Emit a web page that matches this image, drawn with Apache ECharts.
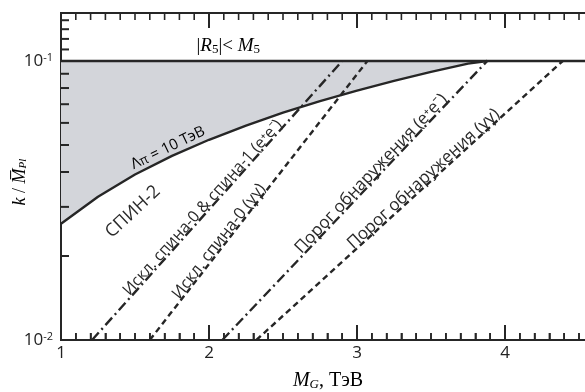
<!DOCTYPE html>
<html><head><meta charset="utf-8">
<script src="https://cdn.jsdelivr.net/npm/echarts@6/dist/echarts.min.js"></script>
<style>html,body{margin:0;padding:0;background:#fff}#c{width:585px;height:392px}</style>
</head><body><div id="c"></div>
<script>
// ---- data ----
const curveMass = [1.0, 1.25, 1.5, 1.75, 2.0, 2.25, 2.5, 2.75, 3.0, 3.25, 3.5, 3.75, 3.88];
const curveK    = [0.0261, 0.0326, 0.0392, 0.0457, 0.0522, 0.0587, 0.0653, 0.0718, 0.0783, 0.0849, 0.0914, 0.0979, 0.1];
const boundMass = [1.0, 5.0];
const boundK    = [0.1, 0.1];
const exclEeMass = [1.21, 2.90];
const exclEeK    = [0.01, 0.1];
const exclGgMass = [1.60, 3.07];
const exclGgK    = [0.01, 0.1];
const detEeMass  = [2.09, 3.88];
const detEeK     = [0.01, 0.1];
const detGgMass  = [2.32, 4.39];
const detGgK     = [0.01, 0.1];
const xTickValues = [1, 2, 3, 4, 5];
const xTickLabels = ['1', '2', '3', '4', '5'];
const yTickValues = [0.01, 0.1];
const yTickExponents = ['-2', '-1'];
const yMinorTicks = [0.02, 0.03, 0.04, 0.05, 0.06, 0.07, 0.08, 0.09, 0.11, 0.12, 0.13, 0.14];
const labelTexts = {
  spin2: 'СПИН-2',
  exclEe: 'Искл. спина-0 & спина-1 (e⁺e⁻)',
  exclGg: 'Искл. спина-0 (γγ)',
  detEe: 'Порог обнаружения (e⁺e⁻)',
  detGg: 'Порог обнаружения (γγ)'
};

// ---- chart ----
const ink = '#262626';
const X_MIN = 1, X_MAX = 5;
const Y_MIN = 0.01, Y_MAX = 0.1486;
const pairs = (xs, ys) => xs.map((x, i) => [x, ys[i]]);
const xMinorTicks = [];
for (let i = X_MIN * 10; i <= X_MAX * 10; i++) { if (i % 10 !== 0) xMinorTicks.push(i / 10); }
const xAllTicks = xTickValues.map(v => ({ v: v, len: 15, w: 2 }))
  .concat(xMinorTicks.map(v => ({ v: v, len: 7, w: 1.6 })));
const chart = echarts.init(document.getElementById('c'));

function lineSeries(xs, ys, dash, width) {
  return {
    type: 'line', data: pairs(xs, ys), symbol: 'none', z: 3,
    lineStyle: { color: ink, width: width || 2.2, type: dash || 'solid' }
  };
}

// tick series drawn through the scales (one short segment per tick)
function xTickSeries(edgeK, dir) {
  return {
    type: 'custom', coordinateSystem: 'cartesian2d', z: 6, clip: false,
    data: xAllTicks.map(s => [s.v, edgeK]),
    renderItem: (params, api) => {
      const s = xAllTicks[params.dataIndex];
      const p = api.coord([s.v, edgeK]);
      return { type: 'line', shape: { x1: p[0], y1: p[1], x2: p[0], y2: p[1] + dir * s.len },
        style: { stroke: ink, lineWidth: s.w } };
    }
  };
}
const yTickSeries = {
  type: 'custom', coordinateSystem: 'cartesian2d', z: 6, clip: false,
  data: yMinorTicks.map(k => [X_MIN, k]),
  renderItem: (params, api) => {
    const p = api.coord([X_MIN, yMinorTicks[params.dataIndex]]);
    return { type: 'line', shape: { x1: p[0], y1: p[1], x2: p[0] + 8, y2: p[1] },
      style: { stroke: ink, lineWidth: 2 } };
  }
};

chart.setOption({
  animation: false,
  grid: { left: 61, top: 13, width: 592, height: 327, outerBoundsMode: 'none',
    show: true, borderColor: ink, borderWidth: 2, backgroundColor: 'transparent' },
  xAxis: [{
    type: 'value', min: X_MIN, max: X_MAX, interval: 1, position: 'bottom',
    axisLine: { show: true, onZero: false, lineStyle: { color: ink, width: 2 } },
    axisTick: { show: true, inside: true, length: 15, lineStyle: { color: ink, width: 2 } },
    minorTick: { show: true, splitNumber: 10, length: 7, lineStyle: { color: ink, width: 1.6 } },
    splitLine: { show: false }, minorSplitLine: { show: false },
    axisLabel: { show: true, color: '#222', fontSize: 17, fontFamily: 'Open Sans', margin: 5,
      formatter: v => { const i = xTickValues.indexOf(Math.round(v)); return i < 0 ? '' : xTickLabels[i]; } }
  }],
  yAxis: [{
    type: 'log', logBase: 10, min: Y_MIN, max: Y_MAX, position: 'left',
    axisLine: { show: true, onZero: false, lineStyle: { color: ink, width: 2 } },
    axisTick: { show: false },
    splitLine: { show: false },
    axisLabel: {
      show: true, margin: 8,
      formatter: v => {
        const i = yTickValues.findIndex(t => Math.abs(t - v) / t < 1e-6);
        return i < 0 ? '' : '{b|10}{s|' + yTickExponents[i] + '}';
      },
      rich: {
        b: { fontSize: 17, fontFamily: 'Open Sans', color: '#222', lineHeight: 18 },
        s: { fontSize: 11, fontFamily: 'Open Sans', color: '#222', verticalAlign: 'top', lineHeight: 18, padding: [0, 0, 9, 0] }
      }
    }
  }],
  series: [
    {
      type: 'custom', coordinateSystem: 'cartesian2d', z: 1,
      data: [[curveMass[0], boundK[0]]],
      renderItem: (params, api) => {
        const pts = curveMass.map((m, i) => api.coord([m, curveK[i]]));
        pts.push(api.coord([curveMass[curveMass.length - 1], boundK[0]]));
        pts.push(api.coord([curveMass[0], boundK[0]]));
        return { type: 'polygon', shape: { points: pts }, style: { fill: '#d3d5da', stroke: null } };
      }
    },
    lineSeries(curveMass, curveK, 'solid', 2.4),
    lineSeries(boundMass, boundK, 'solid', 2.4),
    lineSeries(exclEeMass, exclEeK, [10, 4, 2, 4], 2.4),
    lineSeries(exclGgMass, exclGgK, [6, 4], 2.4),
    lineSeries(detEeMass, detEeK, [10, 4, 2, 4], 2.4),
    lineSeries(detGgMass, detGgK, [6, 4], 2.4),
    xTickSeries(Y_MIN, -1),
    xTickSeries(Y_MAX, 1),
    yTickSeries
  ]
});

// ---- text labels placed through the chart's scales ----
const toPx = p => chart.convertToPixel({ xAxisIndex: 0, yAxisIndex: 0 }, p);
function alongLine(xs, ys, t, perp) {
  const a = toPx([xs[0], ys[0]]), b = toPx([xs[1], ys[1]]);
  const dx = b[0] - a[0], dy = b[1] - a[1], len = Math.hypot(dx, dy);
  const nx = dy / len, ny = -dx / len;
  return { x: a[0] + t * dx + nx * perp, y: a[1] + t * dy + ny * perp, rotation: Math.atan2(-dy, dx) };
}
function txt(pos, text, size) {
  return {
    type: 'text', x: pos.x, y: pos.y, rotation: pos.rotation || 0, z: 10,
    style: { text: text, fill: '#2a2a2a', fontSize: size, fontFamily: 'Open Sans',
      align: 'center', verticalAlign: 'middle', textAlign: 'center', textVerticalAlign: 'middle' }
  };
}
const pL = toPx([1.723, 0.0488]);
const pS = toPx([1.486, 0.0288]);
const pR = toPx([2.13, 0.113]);
const serif = 'Liberation Serif';
const graphics = [
  txt(alongLine(exclEeMass, exclEeK, 0.46, 6), labelTexts.exclEe, 16),
  txt(alongLine(exclGgMass, exclGgK, 0.34, 6), labelTexts.exclGg, 16.5),
  txt(alongLine(detEeMass, detEeK, 0.58, 6.5), labelTexts.detEe, 17),
  txt(alongLine(detGgMass, detGgK, 0.56, 6.5), labelTexts.detGg, 17),
  txt({ x: pS[0], y: pS[1], rotation: 43 * Math.PI / 180 }, labelTexts.spin2, 18),
  {
    type: 'text', x: pL[0], y: pL[1], rotation: 26 * Math.PI / 180, z: 10,
    style: { text: '{a|Λ}{s|π}{a| = 10 ТэВ}', align: 'center', verticalAlign: 'middle', textAlign: 'center', textVerticalAlign: 'middle',
      rich: { a: { fontSize: 15, fontFamily: 'Open Sans', color: '#2a2a2a' },
              s: { fontSize: 13, fontFamily: 'Open Sans', color: '#2a2a2a', verticalAlign: 'bottom' } } }
  },
  {
    type: 'text', x: pR[0], y: pR[1], z: 10,
    style: { text: '{n||}{i|R}{s|5}{n||< }{i|M}{s|5}', align: 'center', verticalAlign: 'middle', textAlign: 'center', textVerticalAlign: 'middle',
      rich: { n: { fontSize: 19, fontFamily: serif, color: '#2a2a2a' },
              i: { fontSize: 19, fontFamily: serif, fontStyle: 'italic', color: '#2a2a2a' },
              s: { fontSize: 13, fontFamily: serif, color: '#2a2a2a', verticalAlign: 'bottom' } } }
  },
  {
    type: 'text', x: 328, y: 381, z: 10,
    style: { text: '{i|M}{s|G}{n|, ТэВ}', align: 'center', verticalAlign: 'middle', textAlign: 'center', textVerticalAlign: 'middle',
      rich: { n: { fontSize: 20, fontFamily: serif, color: '#2a2a2a' },
              i: { fontSize: 20, fontFamily: serif, fontStyle: 'italic', color: '#2a2a2a' },
              s: { fontSize: 13, fontFamily: serif, fontStyle: 'italic', color: '#2a2a2a', verticalAlign: 'bottom' } } }
  },
  {
    type: 'text', x: 20, y: 182, rotation: Math.PI / 2, z: 10,
    style: { text: '{i|k}{n| / }{i|M\u0305}{s|Pl}', align: 'center', verticalAlign: 'middle', textAlign: 'center', textVerticalAlign: 'middle',
      rich: { n: { fontSize: 18, fontFamily: serif, color: '#2a2a2a' },
              i: { fontSize: 18, fontFamily: serif, fontStyle: 'italic', color: '#2a2a2a' },
              s: { fontSize: 11, fontFamily: serif, fontStyle: 'italic', color: '#2a2a2a', verticalAlign: 'bottom' } } }
  }
];
chart.setOption({ graphic: graphics });
</script>
</body></html>
